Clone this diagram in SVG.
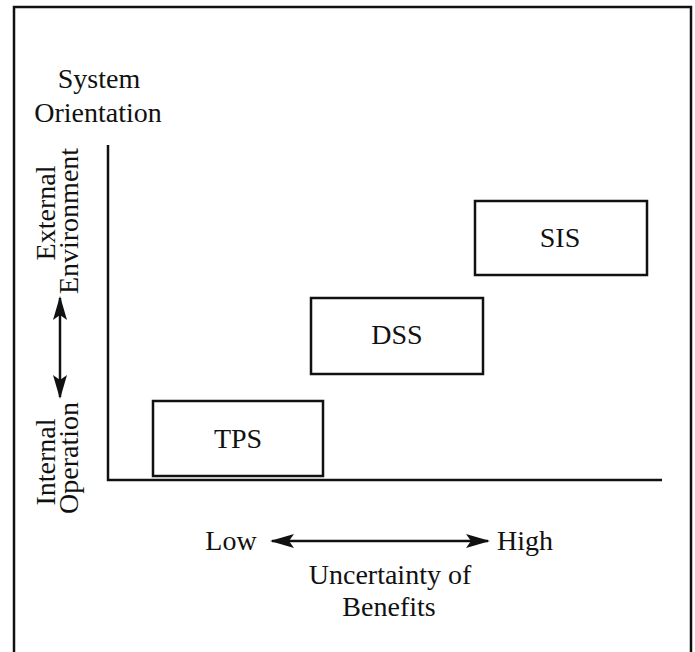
<svg xmlns="http://www.w3.org/2000/svg" width="695" height="652" viewBox="0 0 695 652">
<style>
  text { font-family: "Liberation Serif", "DejaVu Serif", "Times New Roman", Times, serif; font-size: 28px; fill: #111; }
  .box { fill: #fff; stroke: #111; stroke-width: 2.5; }
  .line { fill: none; stroke: #111; stroke-width: 2.5; }
  .arrow { fill: none; stroke: #111; stroke-width: 2.5; }
</style>
<defs>
  <marker id="ah" viewBox="0 0 24 14" refX="22" refY="7" markerWidth="24" markerHeight="14" markerUnits="userSpaceOnUse" orient="auto-start-reverse">
    <path d="M0,0 L24,7 L0,14 L5,7 Z" fill="#111"/>
  </marker>
</defs>
<rect width="695" height="652" fill="#fff"/>
<path class="line" d="M14,652 V7 H691 V652"/>
<g id="title">
  <text x="99" y="88" text-anchor="middle">System</text>
  <text x="98" y="122" text-anchor="middle">Orientation</text>
</g>
<g id="axes">
  <path class="line" d="M108,145 V480 H662"/>
</g>
<g id="y-labels">
  <text transform="translate(55,213) rotate(-90)" text-anchor="middle">External</text>
  <text transform="translate(78,221) rotate(-90)" text-anchor="middle">Environment</text>
  <text transform="translate(55,462) rotate(-90)" text-anchor="middle">Internal</text>
  <text transform="translate(78,458) rotate(-90)" text-anchor="middle">Operation</text>
</g>
<g id="x-labels">
  <text x="231" y="550" text-anchor="middle">Low</text>
  <text x="525" y="550" text-anchor="middle">High</text>
  <text x="390" y="584" text-anchor="middle">Uncertainty of</text>
  <text x="389" y="616" text-anchor="middle">Benefits</text>
</g>
<g id="connectors">
  <line class="arrow" x1="60" y1="298" x2="60" y2="397" marker-start="url(#ah)" marker-end="url(#ah)"/>
  <line class="arrow" x1="272" y1="541" x2="488" y2="541" marker-start="url(#ah)" marker-end="url(#ah)"/>
</g>
<g id="TPS">
  <rect class="box" x="153" y="401" width="170" height="75"/>
  <text x="238" y="448" text-anchor="middle">TPS</text>
</g>
<g id="DSS">
  <rect class="box" x="311" y="298" width="172" height="76"/>
  <text x="397" y="344" text-anchor="middle">DSS</text>
</g>
<g id="SIS">
  <rect class="box" x="475" y="201" width="172" height="74"/>
  <text x="560" y="247" text-anchor="middle">SIS</text>
</g>
</svg>
